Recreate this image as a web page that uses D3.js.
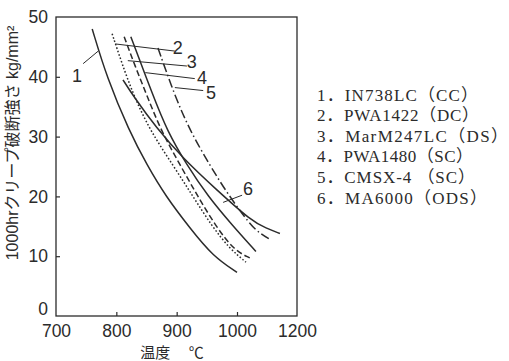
<!DOCTYPE html>
<html>
<head>
<meta charset="utf-8">
<script src="https://cdn.jsdelivr.net/npm/d3@7"></script>
<style>
  body { margin: 0; background: #fff; }
  svg { display: block; }
</style>
</head>
<body>
<div id="chart"></div>
<script>
// temperature (°C) / 1000hr creep rupture strength (kg/mm2)
const in738lc   = [[760, 48], [784.5, 39.8], [821, 31], [851, 25.2], [882, 20], [922, 14.7], [960, 10], [1000, 7.3]];
const pwa1422   = [[793, 47.2], [809, 42.3], [829, 36.8], [856, 31], [894, 25.2], [927, 20], [958.6, 15], [988.4, 11.2], [1030, 9]];
const marm247lc = [[813, 46.7], [831, 41.8], [851, 36.8], [874, 31], [906, 25.2], [935, 20], [965, 15], [995, 11], [1043, 9.7]];
const pwa1480   = [[824, 46.7], [861, 36.8], [884, 31], [917, 25.2], [952, 20], [992, 15.2], [1063, 10.8]];
const cmsx4     = [[869, 44.8], [897, 36.8], [922, 31], [955, 25.2], [984, 20.5], [1043, 15.3], [1077, 13.8], [1110, 12.8]];
const ma6000    = [[811, 39.5], [828, 36.8], [866, 31.5], [911, 26.3], [964, 21.3], [1050, 15.8], [1097, 14.7], [1143, 13.8]];

const legendLabels = ['1．IN738LC（CC）', '2．PWA1422（DC）', '3．MarM247LC（DS）',
                      '4．PWA1480（SC）', '5．CMSX-4 （SC）', '6．MA6000（ODS）'];
const xTicks = [700, 800, 900, 1000, 1200];
const yTicks = [0, 10, 20, 30, 40, 50];

// leader lines: from a point on the curve to its number, in data units
const callouts = [
  { n: '1', from: [770, 44.3], to: [745, 42.2], at: [735, 40.2] },
  { n: '2', from: [798, 45.5], to: [897, 44.3], at: [902, 44.8] },
  { n: '3', from: [819, 42.7], to: [917, 41.8], at: [925, 42.5] },
  { n: '4', from: [848, 40.7], to: [930, 39.7], at: [942, 39.8] },
  { n: '5', from: [897, 38.2], to: [944, 37.7], at: [957, 37.3] },
  { n: '6', from: [977, 19.0], to: [1017, 20.2], at: [1037, 21.3] }
];

const series = [
  { data: in738lc,   dash: null },
  { data: pwa1422,   dash: '1.6,2' },
  { data: marm247lc, dash: '6,3' },
  { data: pwa1480,   dash: null },
  { data: cmsx4,     dash: '9,3,1.5,3' },
  { data: ma6000,    dash: null }
];

const width = 509, height = 361;
const ink = '#2b2b2b';

const svg = d3.select('#chart').append('svg')
  .attr('width', width)
  .attr('height', height);

// the printed axis puts 1200 only one gap after 1000
const x = d3.scaleLinear().domain([700, 1000, 1200]).range([56, 237, 297]);
const y = d3.scaleLinear().domain([0, 50]).range([316, 17]);

// axes (ticks point inward, frame drawn separately)
const xAxis = svg.append('g')
  .attr('transform', `translate(0,${y(0)})`)
  .call(d3.axisBottom(x).tickValues(xTicks).tickFormat(d3.format('d')).tickSize(-4).tickPadding(9));
const yAxis = svg.append('g')
  .attr('transform', `translate(${x(700)},0)`)
  .call(d3.axisLeft(y).tickValues(yTicks).tickSize(-4).tickPadding(8));

[xAxis, yAxis].forEach(g => {
  g.select('.domain').remove();
  g.selectAll('line').attr('stroke', ink).attr('stroke-width', 1.2);
  g.selectAll('text')
    .attr('fill', ink)
    .style('font-family', '"Liberation Sans", Arial, sans-serif')
    .style('font-size', '17.5px');
});
xAxis.selectAll('.tick').filter(d => d === 700 || d === 1200).select('line').remove();
yAxis.selectAll('.tick').filter(d => d === 0 || d === 50).select('line').remove();
yAxis.selectAll('.tick').filter(d => d === 0).select('text').attr('y', -7);

svg.append('rect')
  .attr('x', x(700)).attr('y', y(50))
  .attr('width', x(1200) - x(700)).attr('height', y(0) - y(50))
  .attr('fill', 'none')
  .attr('stroke', ink)
  .attr('stroke-width', 1.3);

const line = d3.line()
  .x(d => x(d[0]))
  .y(d => y(d[1]))
  .curve(d3.curveBasis);

svg.append('g').selectAll('path')
  .data(series)
  .enter()
  .append('path')
  .attr('d', d => line(d.data))
  .attr('fill', 'none')
  .attr('stroke', ink)
  .attr('stroke-width', 1.5)
  .attr('stroke-dasharray', d => d.dash);

// numbered leaders
const lab = svg.append('g');
lab.selectAll('line')
  .data(callouts)
  .enter()
  .append('line')
  .attr('x1', d => x(d.from[0])).attr('y1', d => y(d.from[1]))
  .attr('x2', d => x(d.to[0])).attr('y2', d => y(d.to[1]))
  .attr('stroke', ink)
  .attr('stroke-width', 1);
lab.selectAll('text')
  .data(callouts)
  .enter()
  .append('text')
  .attr('x', d => x(d.at[0])).attr('y', d => y(d.at[1]))
  .attr('text-anchor', 'middle')
  .attr('dy', '0.35em')
  .attr('fill', ink)
  .style('font-family', '"Liberation Sans", Arial, sans-serif')
  .style('font-size', '18px')
  .text(d => d.n);

// legend
const legendWidths = [161, 162, 191, 156, 158, 170];
svg.append('g').selectAll('text')
  .data(legendLabels)
  .enter()
  .append('text')
  .attr('x', 317)
  .attr('y', (d, i) => 100.5 + i * 20.6)
  .attr('textLength', (d, i) => legendWidths[i])
  .attr('lengthAdjust', 'spacing')
  .attr('fill', ink)
  .style('font-family', '"Liberation Serif", "Noto Sans CJK JP", serif')
  .style('font-size', '17px')
  .text(d => d);

// axis titles
svg.append('text')
  .attr('transform', 'translate(18,143) rotate(-90)')
  .attr('text-anchor', 'middle')
  .attr('fill', ink)
  .style('font-family', '"Liberation Sans", "Noto Sans CJK JP", sans-serif')
  .style('font-size', '16px')
  .text('1000hrクリープ破断強さ kg/mm²');

svg.append('text')
  .attr('x', 172).attr('y', 358)
  .attr('text-anchor', 'middle')
  .attr('fill', ink)
  .style('font-family', '"Noto Sans CJK JP", sans-serif')
  .style('font-size', '15px')
  .attr('xml:space', 'preserve')
  .text('温度　 ℃');
</script>
</body>
</html>
